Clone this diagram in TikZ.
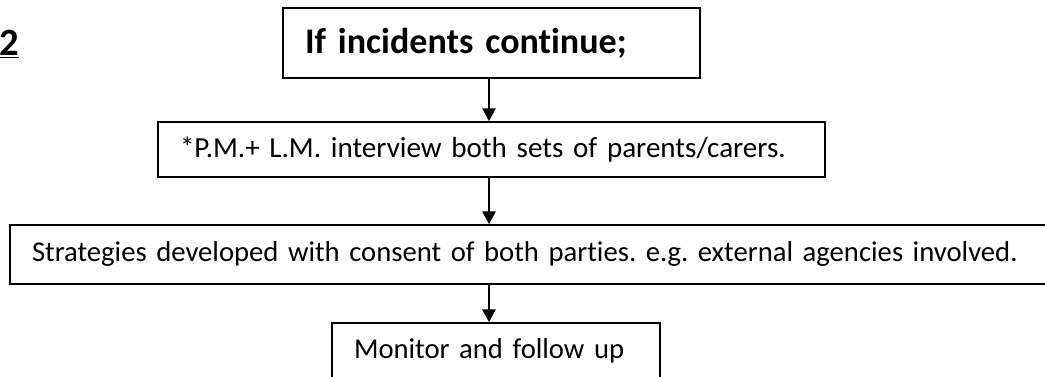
\documentclass[tikz,border=0pt]{standalone}
\usepackage{fontspec}
\setmainfont{Carlito}[Ligatures=NoCommon]
\usetikzlibrary{arrows.meta}
\frenchspacing
\tikzset{
    stagebox/.style={draw, line width=1.4pt, inner xsep=16.5pt, inner ysep=0pt, align=left},
    flowarrow/.style={line width=1.3pt, -{Triangle[width=10pt,length=9.5pt]}}
}
\begin{document}
\begin{tikzpicture}[x=0.75pt,y=-0.75pt]
    \useasboundingbox (0,0) rectangle (1045,376);

    \node[anchor=west, inner sep=0pt, font=\fontsize{29}{32}\selectfont\bfseries] (stage) at (-1,44) {\underline{2}};

    \node[stagebox, text width=279.75pt, minimum height=52.5pt, font=\fontsize{27}{32}\selectfont\bfseries] (incidents) at (491.5,43) {If incidents continue;};

    \node[stagebox, text width=467.25pt, minimum height=41.25pt, font=\fontsize{21.8}{26}\selectfont] (interview) at (491.5,149.5) {*P.M.+ L.M. interview both sets of parents/carers.};

    \node[stagebox, text width=748.5pt, minimum height=44.25pt, font=\fontsize{21.5}{26}\selectfont] (strategies) at (531,254.5) {Strategies developed with consent of both parties. e.g. external agencies involved.};

    \node[stagebox, text width=213pt, minimum height=42pt, font=\fontsize{21.5}{26}\selectfont] (monitor) at (496,351) {Monitor and follow up};

%arrows
    \coordinate (spine) at (489,0);
    \draw[flowarrow] (incidents.south -| spine) -- (interview.north -| spine);
    \draw[flowarrow] (interview.south -| spine) -- (strategies.north -| spine);
    \draw[flowarrow] (strategies.south -| spine) -- (monitor.north -| spine);

\end{tikzpicture}
\end{document}
